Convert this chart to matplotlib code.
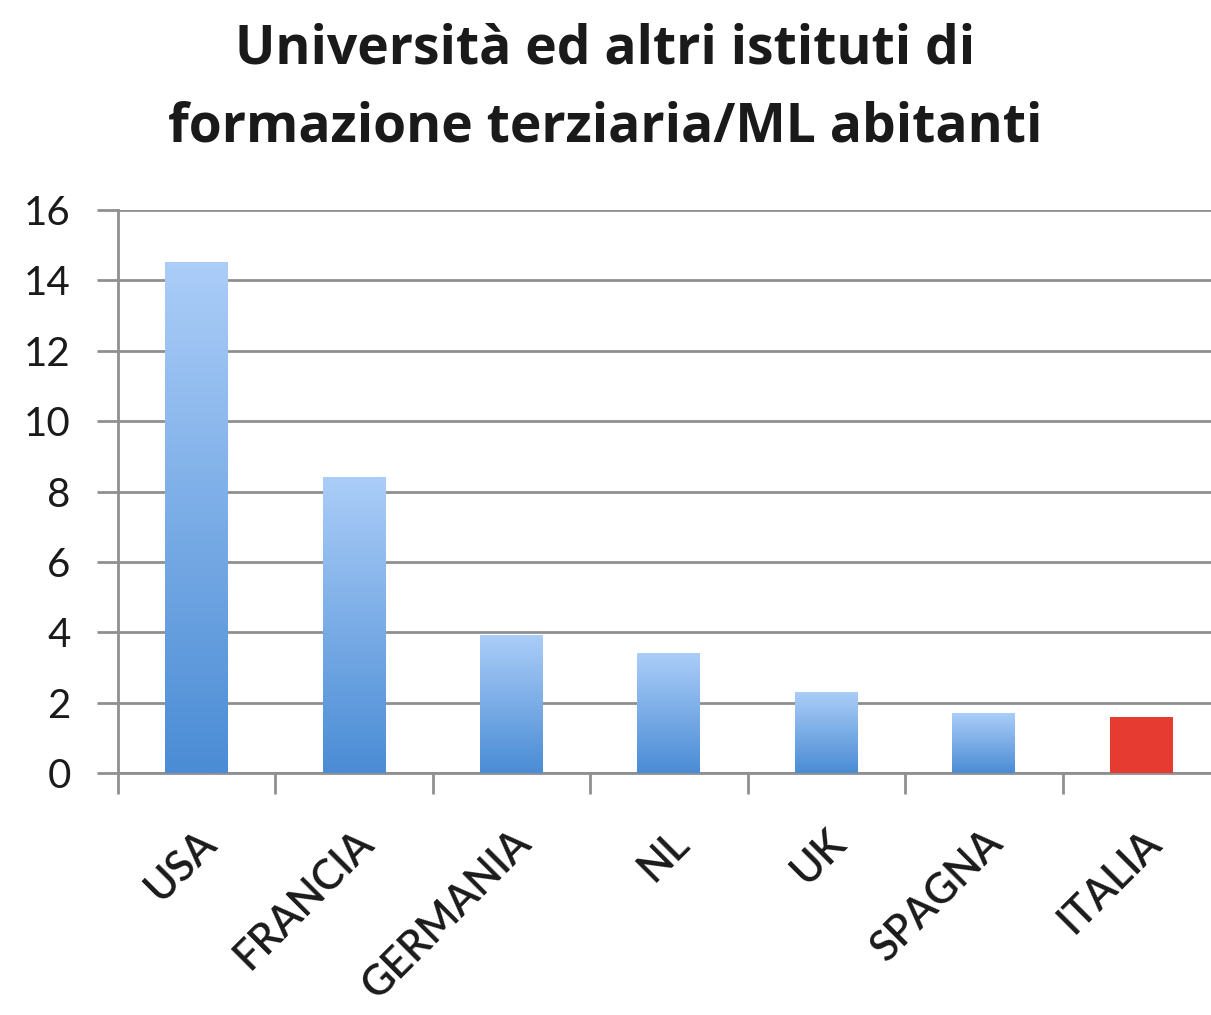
"""
Bar chart: universita' ed altri istituti di formazione terziaria per milione di abitanti.
"""

import matplotlib.pyplot as plt
import numpy as np
from matplotlib.colors import LinearSegmentedColormap

countries = ["USA", "FRANCIA", "GERMANIA", "NL", "UK", "SPAGNA", "ITALIA"]
values = [14.5, 8.4, 3.9, 3.4, 2.3, 1.7, 1.6]
highlight = "ITALIA"
yticks = [0, 2, 4, 6, 8, 10, 12, 14, 16]
title = "Università ed altri istituti di\nformazione terziaria/ML abitanti"

plt.rcParams["font.family"] = ["Lato", "DejaVu Sans"]

blue_cmap = LinearSegmentedColormap.from_list("bar_blue", ["#4a8cd5", "#abcdf8"])
red = "#e53b30"
grid_grey = "#8f8f8f"
text_color = "#1a1a1a"
bar_width = 0.4

fig = plt.figure(figsize=(12.11, 10.15), dpi=100)
ax = fig.add_axes([0.0974, 0.2384, 0.91, 0.5547])

gradient = np.linspace(0, 1, 256).reshape(-1, 1)
for i, (name, value) in enumerate(zip(countries, values)):
    x0, x1 = i - bar_width / 2, i + bar_width / 2
    if name == highlight:
        ax.bar(i, value, width=bar_width, color=red, zorder=3)
    else:
        ax.imshow(
            gradient,
            cmap=blue_cmap,
            origin="lower",
            extent=[x0, x1, 0, value],
            aspect="auto",
            zorder=3,
        )

ax.set_xlim(-0.5, len(countries) - 0.5)
ax.set_ylim(0, 16)
ax.set_yticks(yticks)
ax.set_yticklabels([str(t) for t in yticks], fontsize=29, color=text_color)
ax.set_xticks(range(len(countries)))
ax.set_xticklabels(
    countries,
    rotation=45,
    ha="right",
    va="top",
    rotation_mode="anchor",
    fontsize=30,
    fontweight="semibold",
    color=text_color,
)
ax.tick_params(axis="x", which="major", length=0, pad=36)
ax.set_xticks(np.arange(-0.5, len(countries), 1), minor=True)
ax.tick_params(axis="x", which="minor", length=15, width=2, color=grid_grey)
ax.tick_params(axis="y", length=15, width=2, color=grid_grey, pad=19)

ax.grid(axis="y", color=grid_grey, linewidth=2, zorder=1)
ax.set_axisbelow(True)
for side in ["top", "right"]:
    ax.spines[side].set_visible(False)
for side in ["left", "bottom"]:
    ax.spines[side].set_color(grid_grey)
    ax.spines[side].set_linewidth(2)

fig.text(
    0.5, 0.978, title, ha="center", va="top", fontsize=38.5, fontweight="bold",
    family=["Open Sans", "DejaVu Sans"], linespacing=1.6, color=text_color,
)

fig.savefig("out.png", dpi=100)
